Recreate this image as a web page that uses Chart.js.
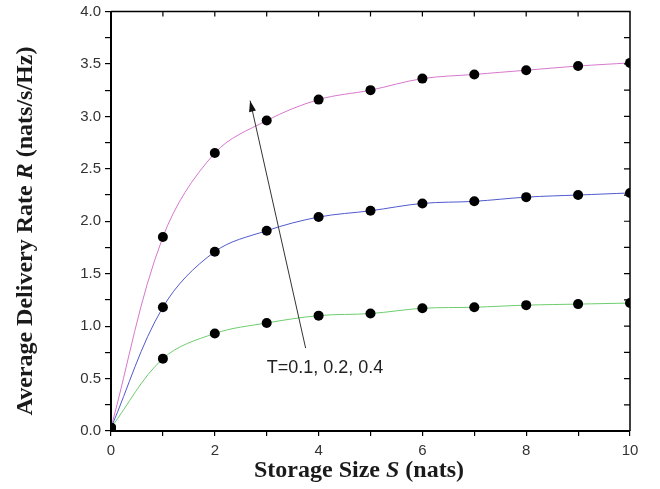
<!DOCTYPE html>
<html>
<head>
<meta charset="utf-8">
<script src="https://cdn.jsdelivr.net/npm/chart.js@4.4.0/dist/chart.umd.min.js"></script>
<style>
  html, body { margin: 0; padding: 0; background: #fff; }
  #wrap { width: 660px; height: 489px; }
</style>
</head>
<body>
<div id="wrap"><canvas id="myChart" width="660" height="489"></canvas></div>
<script>
// storage size S (nats)
const storage = [0, 1, 2, 3, 4, 5, 6, 7, 8, 9, 10];
// delivery rate R for T = 0.4 (pink), 0.2 (blue), 0.1 (green)
const rateT04 = [0.03, 1.85, 2.65, 2.96, 3.16, 3.25, 3.36, 3.40, 3.44, 3.48, 3.51];
const rateT02 = [0.03, 1.18, 1.71, 1.91, 2.04, 2.10, 2.17, 2.19, 2.23, 2.25, 2.27];
const rateT01 = [0.03, 0.69, 0.93, 1.03, 1.10, 1.12, 1.17, 1.18, 1.20, 1.21, 1.22];

const xTicks = ['0', '2', '4', '6', '8', '10'];
const yTicks = ['0.0', '0.5', '1.0', '1.5', '2.0', '2.5', '3.0', '3.5', '4.0'];

// annotation arrow (data coords) and its label
const arrowFrom = [3.75, 0.79];
const arrowTo = [2.68, 3.15];
const arrowLabel = 'T=0.1, 0.2, 0.4';
const arrowLabelAt = [3.0, 0.55];

function toPoints(ys) {
  return storage.map((s, i) => ({ x: s, y: ys[i] }));
}

function curve(ys, color) {
  return {
    data: toPoints(ys),
    borderColor: color,
    borderWidth: 1,
    tension: 0.35,
    pointRadius: 5,
    pointBackgroundColor: '#000',
    pointBorderWidth: 0,
    pointHoverRadius: 5,
    clip: 0
  };
}

const frame = {
  id: 'frame',
  afterDraw(chart) {
    const ctx = chart.ctx;
    const a = chart.chartArea;
    const xs = chart.scales.x, ys = chart.scales.y;
    ctx.save();
    ctx.strokeStyle = '#000';
    // top + right axis lines
    ctx.lineWidth = 1.5;
    ctx.beginPath();
    ctx.moveTo(a.left, a.top); ctx.lineTo(a.right, a.top); ctx.lineTo(a.right, a.bottom);
    ctx.stroke();
    // inward ticks
    ctx.lineWidth = 1.2;
    ctx.beginPath();
    for (let v = 1; v < 10; v++) {
      const px = xs.getPixelForValue(v);
      ctx.moveTo(px, a.top); ctx.lineTo(px, a.top + 5);
    }
    for (let v = 0.25; v < 4; v += 0.25) {
      const py = ys.getPixelForValue(v);
      ctx.moveTo(a.right, py); ctx.lineTo(a.right - 6, py);
    }
    ctx.stroke();

    // arrow
    const x0 = xs.getPixelForValue(arrowFrom[0]), y0 = ys.getPixelForValue(arrowFrom[1]);
    const x1 = xs.getPixelForValue(arrowTo[0]), y1 = ys.getPixelForValue(arrowTo[1]);
    ctx.strokeStyle = '#333';
    ctx.lineWidth = 1;
    ctx.beginPath();
    ctx.moveTo(x0, y0); ctx.lineTo(x1, y1);
    ctx.stroke();
    const ang = Math.atan2(y1 - y0, x1 - x0);
    ctx.fillStyle = '#111';
    ctx.beginPath();
    ctx.moveTo(x1, y1);
    ctx.lineTo(x1 - 11 * Math.cos(ang) + 3.5 * Math.sin(ang), y1 - 11 * Math.sin(ang) - 3.5 * Math.cos(ang));
    ctx.lineTo(x1 - 11 * Math.cos(ang) - 3.5 * Math.sin(ang), y1 - 11 * Math.sin(ang) + 3.5 * Math.cos(ang));
    ctx.closePath();
    ctx.fill();

    ctx.fillStyle = '#222';
    ctx.font = '18px "Liberation Sans", Arial, sans-serif';
    ctx.textAlign = 'left';
    ctx.textBaseline = 'alphabetic';
    ctx.fillText(arrowLabel, xs.getPixelForValue(arrowLabelAt[0]), ys.getPixelForValue(arrowLabelAt[1]));

    // axis titles with italic variable
    const bold = 'bold 24px "Liberation Serif", "Times New Roman", serif';
    const ital = 'italic bold 24px "Liberation Serif", "Times New Roman", serif';
    function drawParts(parts, cx, cy) {
      let w = 0;
      parts.forEach(p => { ctx.font = p[1]; w += ctx.measureText(p[0]).width; });
      let x = cx - w / 2;
      parts.forEach(p => { ctx.font = p[1]; ctx.fillText(p[0], x, cy); x += ctx.measureText(p[0]).width; });
    }
    ctx.fillStyle = '#1a1a1a';
    ctx.textBaseline = 'alphabetic';
    drawParts([['Storage Size ', bold], ['S', ital], [' (nats)', bold]], 359, 477);
    ctx.translate(32, 231);
    ctx.rotate(-Math.PI / 2);
    drawParts([['Average Delivery Rate ', bold], ['R', ital], [' (nats/s/Hz)', bold]], 0, 0);
    ctx.restore();
  }
};

const chartContext = document.getElementById('myChart').getContext('2d');
const myChart = new Chart(chartContext, {
  type: 'line',
  data: {
    datasets: [
      curve(rateT04, 'rgb(214,120,205)'),
      curve(rateT02, 'rgb(80,90,205)'),
      curve(rateT01, 'rgb(110,205,110)')
    ]
  },
  options: {
    responsive: false,
    animation: false,
    events: [],
    layout: { padding: { top: 9, right: 30, left: 0, bottom: 0 } },
    plugins: { legend: { display: false }, tooltip: { enabled: false } },
    scales: {
      x: {
        type: 'linear',
        min: 0,
        max: 10,
        afterFit: s => { s.height = 58; },
        afterBuildTicks: s => { s.ticks = storage.map(v => ({ value: v })); },
        ticks: {
          autoSkip: false,
          maxRotation: 0,
          padding: 6,
          color: '#333',
          font: { family: '"Liberation Sans", Arial, sans-serif', size: 15 },
          callback: v => xTicks.includes(String(v)) ? String(v) : ''
        },
        grid: { drawOnChartArea: false, tickLength: 5, color: '#000', lineWidth: 1.2 },
        border: { color: '#000', width: 2 }
      },
      y: {
        min: 0,
        max: 4,
        afterFit: s => { s.width = 111; },
        ticks: {
          stepSize: 0.25,
          autoSkip: false,
          padding: 4,
          color: '#333',
          font: { family: '"Liberation Sans", Arial, sans-serif', size: 15, lineHeight: 1 },
          callback: v => { const t = v.toFixed(1); return (yTicks.includes(t) && Math.abs(v * 2 - Math.round(v * 2)) < 1e-6) ? t : ''; }
        },
        grid: { drawOnChartArea: false, tickLength: 6, color: '#000', lineWidth: 1.2 },
        border: { color: '#000', width: 2 }
      }
    }
  },
  plugins: [frame]
});
</script>
</body>
</html>
